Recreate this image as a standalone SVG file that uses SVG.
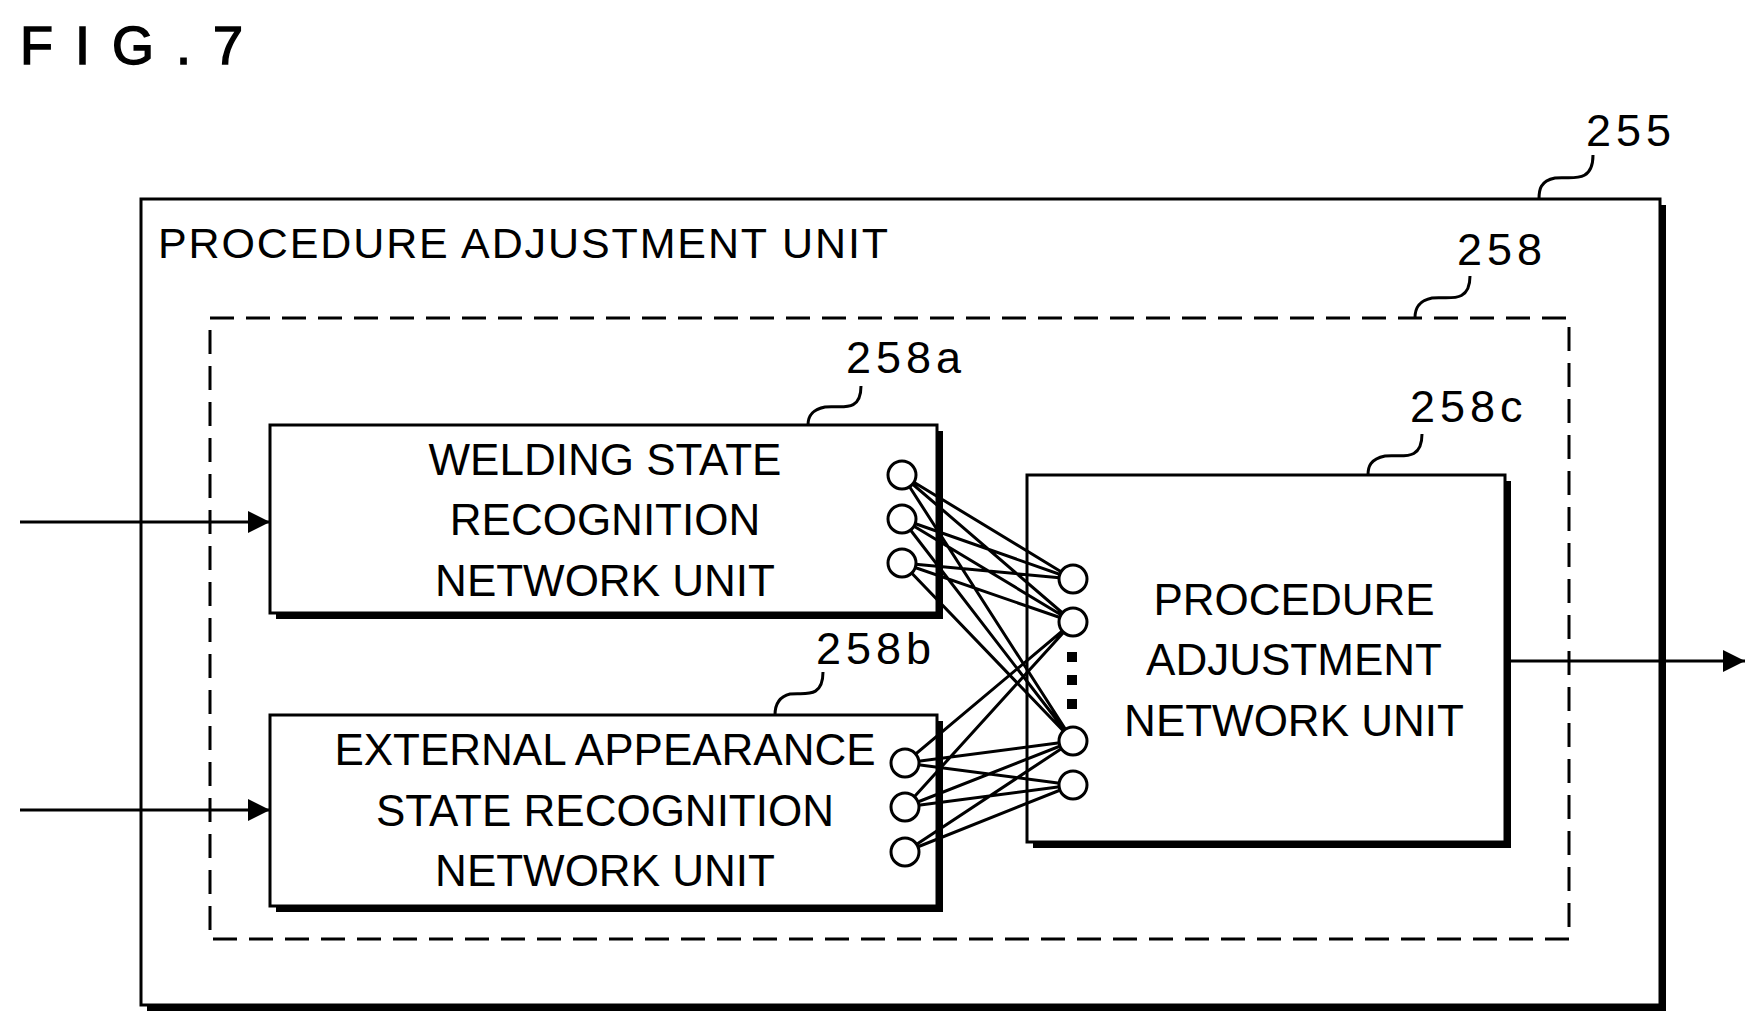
<svg xmlns="http://www.w3.org/2000/svg" width="1755" height="1031" viewBox="0 0 1755 1031">
<style>
text{font-family:"Liberation Sans",Arial,sans-serif;fill:#000}
.b{fill:#fff;stroke:#000;stroke-width:3}
.sh{fill:#000}
.l{stroke:#000;stroke-width:3;fill:none}
.c{fill:#fff;stroke:#000;stroke-width:3}
.t{font-size:44px;text-anchor:middle}
.n{font-size:45px;letter-spacing:5px}
</style>
<defs><marker id="a" markerWidth="22" markerHeight="22" refX="22" refY="11" orient="auto" markerUnits="userSpaceOnUse" viewBox="0 0 22 22"><path d="M0,0 L22,11 L0,22z"/></marker></defs>
<rect width="1755" height="1031" fill="#fff"/>
<text x="20" y="64" style="font-size:54px;letter-spacing:22px;stroke:#000;stroke-width:1.5">FIG.7</text>
<g id="n255">
<rect class="sh" x="147" y="205" width="1519" height="806"/>
<rect class="b" x="141" y="199" width="1519" height="806"/>
<text x="158" y="258" style="font-size:43px" textLength="730">PROCEDURE ADJUSTMENT UNIT</text>
<text class="n" x="1586" y="146">255</text>
<path class="l" d="M1593,155 C1593,185 1570,176 1555,178 C1540,181 1539,190 1539,199"/>
</g>
<g id="n258">
<rect x="210" y="318" width="1359" height="621" fill="none" stroke="#000" stroke-width="3" stroke-dasharray="24,12"/>
<text class="n" x="1457" y="265">258</text>
<path class="l" d="M1470,276 C1470,305 1447,296 1432,298 C1417,301 1415,310 1415,318"/>
</g>
<g id="n258a">
<rect class="sh" x="276" y="431" width="667" height="188"/>
<rect class="b" x="270" y="425" width="667" height="188"/>
<text class="t" x="605" y="475">WELDING STATE</text>
<text class="t" x="605" y="535">RECOGNITION</text>
<text class="t" x="605" y="596">NETWORK UNIT</text>
<text class="n" x="846" y="373">258a</text>
<path class="l" d="M861,386 C861,414 840,405 825,407 C810,410 808,418 808,425"/>
</g>
<g id="n258b">
<rect class="sh" x="276" y="721" width="667" height="191"/>
<rect class="b" x="270" y="715" width="667" height="191"/>
<text class="t" x="605" y="765">EXTERNAL APPEARANCE</text>
<text class="t" x="605" y="826">STATE RECOGNITION</text>
<text class="t" x="605" y="886">NETWORK UNIT</text>
<text class="n" x="816" y="664">258b</text>
<path class="l" d="M823,672 C823,700 803,692 790,694 C778,697 775,706 775,715"/>
</g>
<g id="n258c">
<rect class="sh" x="1033" y="481" width="478" height="367"/>
<rect class="b" x="1027" y="475" width="478" height="367"/>
<text class="t" x="1294" y="615">PROCEDURE</text>
<text class="t" x="1294" y="675">ADJUSTMENT</text>
<text class="t" x="1294" y="736">NETWORK UNIT</text>
<text class="n" x="1410" y="422">258c</text>
<path class="l" d="M1422,434 C1422,463 1400,454 1385,456 C1370,459 1368,467 1368,475"/>
</g>
<g id="connectors">
<line class="l" x1="20" y1="522" x2="270" y2="522" marker-end="url(#a)"/>
<line class="l" x1="20" y1="810" x2="270" y2="810" marker-end="url(#a)"/>
<line class="l" x1="1511" y1="661" x2="1745" y2="661" marker-end="url(#a)"/>
<path class="l" d="M902,475 L1073,579 M902,475 L1073,622 M902,475 L1073,741 M902,519 L1073,579 M902,519 L1073,622 M902,519 L1073,741 M902,563 L1073,579 M902,563 L1073,622 M902,563 L1073,741 M905,763 L1073,622 M905,763 L1073,741 M905,763 L1073,785 M905,807 L1073,622 M905,807 L1073,741 M905,807 L1073,785 M905,852 L1073,741 M905,852 L1073,785"/>
<rect x="1067" y="652" width="10" height="10"/><rect x="1067" y="675" width="10" height="10"/><rect x="1067" y="699" width="10" height="10"/>
<circle class="c" cx="902" cy="475" r="14"/><circle class="c" cx="902" cy="519" r="14"/><circle class="c" cx="902" cy="563" r="14"/>
<circle class="c" cx="905" cy="763" r="14"/><circle class="c" cx="905" cy="807" r="14"/><circle class="c" cx="905" cy="852" r="14"/>
<circle class="c" cx="1073" cy="579" r="14"/><circle class="c" cx="1073" cy="622" r="14"/><circle class="c" cx="1073" cy="741" r="14"/><circle class="c" cx="1073" cy="785" r="14"/>
</g>
</svg>
